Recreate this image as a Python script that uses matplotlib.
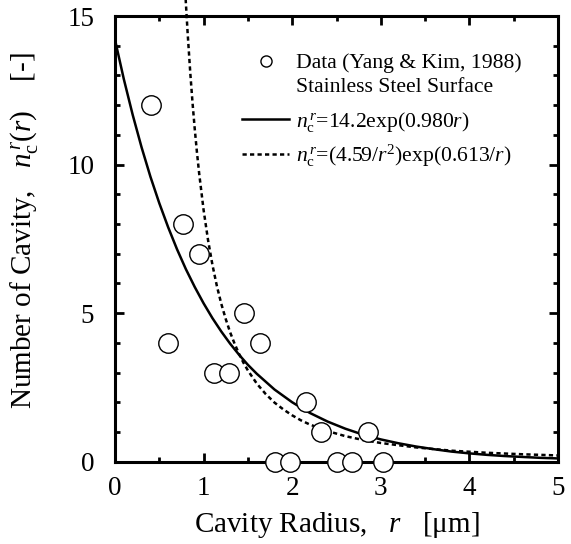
import matplotlib
matplotlib.use("Agg")
import matplotlib.pyplot as plt
from matplotlib.lines import Line2D
from matplotlib.ticker import MultipleLocator

plt.rcParams['font.family'] = ['Liberation Serif', 'DejaVu Serif']
plt.rcParams['mathtext.fontset'] = 'custom'
plt.rcParams['mathtext.rm'] = 'Liberation Serif'
plt.rcParams['mathtext.it'] = 'Liberation Serif:italic'

# Data points (Yang & Kim, 1988)
data_r = [0.41, 0.60, 0.77, 0.95, 1.12, 1.29, 1.46, 1.64, 2.16, 2.33, 2.85,
          1.81, 1.98, 2.50, 2.68, 3.02]
data_n = [12, 4, 8, 7, 3, 3, 5, 4, 2, 1, 1,
          0, 0, 0, 0, 0]

# Solid fitted curve
solid_r = [0.0, 0.1, 0.2, 0.3, 0.4, 0.5, 0.6, 0.7, 0.8, 0.9, 1.0, 1.1, 1.2,
           1.3, 1.4, 1.5, 1.6, 1.8, 2.0, 2.2, 2.4, 2.6, 2.8, 3.0, 3.2, 3.4,
           3.6, 3.8, 4.0, 4.2, 4.4, 4.6, 4.8, 5.0]
solid_n = [14.2, 12.87, 11.67, 10.58, 9.59, 8.70, 7.89, 7.15, 6.48, 5.88,
           5.33, 4.83, 4.38, 3.97, 3.60, 3.26, 2.96, 2.43, 2.00, 1.64, 1.35,
           1.11, 0.91, 0.75, 0.62, 0.51, 0.42, 0.34, 0.28, 0.23, 0.19, 0.16,
           0.13, 0.11]

# Dashed fitted curve
dash_r = [0.785, 0.8, 0.82, 0.85, 0.875, 0.9, 0.925, 0.95, 1.0, 1.05, 1.1,
          1.15, 1.2, 1.25, 1.3, 1.35, 1.4, 1.45, 1.5, 1.6, 1.7, 1.8, 1.9,
          2.0, 2.1, 2.2, 2.4, 2.6, 2.8, 3.0, 3.4, 3.8, 4.2, 4.6, 5.0]
dash_n = [16.27, 15.43, 14.42, 13.07, 12.08, 11.20, 10.41, 9.70, 8.47, 7.46,
          6.62, 5.91, 5.31, 4.80, 4.35, 3.97, 3.63, 3.33, 3.07, 2.63, 2.28,
          1.99, 1.76, 1.56, 1.39, 1.25, 1.03, 0.86, 0.73, 0.63, 0.48, 0.37,
          0.30, 0.25, 0.21]

fig = plt.figure(figsize=(5.71, 5.44), dpi=100)
ax = fig.add_axes([115/571, 1 - 461.7/544, (558-115)/571, (461.7-16)/544])

DASH = (0, (1.7, 1.3))
ax.plot(solid_r, solid_n, color='black', lw=1.8, solid_capstyle='butt')
ax.plot(dash_r, dash_n, color='black', lw=1.8, linestyle=DASH,
        clip_on=False)
ax.plot(data_r, data_n, linestyle='none', marker='o', markersize=14,
        markerfacecolor='white', markeredgecolor='black', markeredgewidth=1.0,
        clip_on=False, zorder=5)

ax.set_xlim(0, 5)
ax.set_ylim(0, 15)
ax.xaxis.set_major_locator(MultipleLocator(1))
ax.xaxis.set_minor_locator(MultipleLocator(0.5))
ax.yaxis.set_major_locator(MultipleLocator(5))
ax.yaxis.set_minor_locator(MultipleLocator(1))
ax.tick_params(which='both', direction='in', top=True, right=True, width=2.0,
               labelsize=19.5)
ax.tick_params(which='major', length=6.7)
ax.tick_params(axis='y', which='major', pad=15)
ax.tick_params(axis='x', which='major', pad=10)
ax.tick_params(which='minor', length=3.8)
for s in ax.spines.values():
    s.set_linewidth(2.2)

px = lambda x: (x - 115) / 443
py = lambda y: (461.7 - y) / 445.7

ax.set_xlabel(r'Cavity Radius,   $r$   [μm]', fontsize=21, labelpad=7)
ax.set_ylabel(r'Number of Cavity,   $n_{\mathrm{c}}^{\,r}(r)$    [-]',
              fontsize=21)
ax.yaxis.set_label_coords(px(41), py(231))

h_data = Line2D([], [], linestyle='none', marker='o', markersize=8,
                markerfacecolor='white', markeredgecolor='black',
                markeredgewidth=1.0)
h_blank = Line2D([], [], linestyle='none')
h_solid = Line2D([], [], color='black', lw=1.8)
h_dash = Line2D([], [], color='black', lw=1.8, linestyle=DASH)

leg1 = ax.legend([h_data, h_blank],
                 ['Data (Yang & Kim, 1988)', 'Stainless Steel Surface'],
                 loc='upper left', bbox_to_anchor=(px(241.7), py(53)),
                 frameon=False, fontsize=15.6, handlelength=2.2,
                 handletextpad=0.3, labelspacing=0.16, borderaxespad=0.0,
                 borderpad=0.0)
ax.add_artist(leg1)
ax.legend([h_solid, h_dash],
          [r'$n_{\mathrm{c}}^{\,r}$=14.2exp(0.980$r$)',
           r'$n_{\mathrm{c}}^{\,r}$=(4.59/$r^{2}$)exp(0.613/$r$)'],
          loc='upper left', bbox_to_anchor=(px(241.7), py(110)),
          frameon=False, fontsize=15.6, handlelength=2.2,
          handletextpad=0.3, labelspacing=0.39, borderaxespad=0.0,
          borderpad=0.0)

fig.savefig('out.png', dpi=100)
